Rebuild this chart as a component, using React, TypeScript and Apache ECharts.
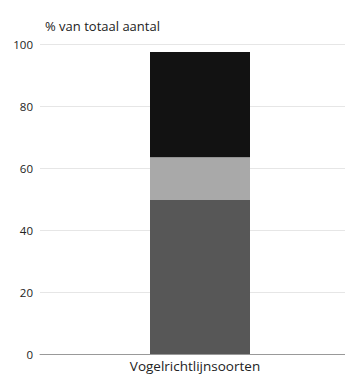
import React, { useEffect, useRef } from "react";
import * as echarts from "echarts";

const categories = ["Vogelrichtlijnsoorten"];
const seriesNames = ["Groep A", "Groep B", "Groep C"];
const valuesA = [49.7];
const valuesB = [13.8];
const valuesC = [33.9];
const colors = ["#575757", "#a9a9a9", "#121212"];
const yTicks = [0, 20, 40, 60, 80, 100];

export default function App() {
  const ref = useRef<HTMLDivElement>(null);
  useEffect(() => {
    if (!ref.current) return;
    const chart = echarts.init(ref.current, null, { renderer: "svg" });
    const data = [valuesA, valuesB, valuesC];
    const yMin = yTicks[0];
    const yMax = yTicks[yTicks.length - 1];
    chart.setOption({
      animation: false,
      textStyle: { fontFamily: "Open Sans" },
      title: {
        text: "% van totaal aantal",
        left: 40,
        top: 14,
        textStyle: { fontSize: 13, fontWeight: "normal", color: "#222", fontFamily: "Open Sans" },
      },
      grid: [
        { left: 40, right: 0, top: 44, bottom: 20 },
        { left: 55, right: 0, top: 44, bottom: 20 },
      ],
      xAxis: [
        {
          gridIndex: 0,
          type: "category",
          data: [""],
          axisLine: { show: true, lineStyle: { color: "#999", width: 1 } },
          axisTick: { show: false },
          axisLabel: { show: false },
        },
        {
          gridIndex: 1,
          type: "category",
          data: categories,
          axisLine: { show: false },
          axisTick: { show: false },
          axisLabel: { color: "#222", fontSize: 13.5, margin: 5, padding: [0, 10, 0, 0] },
        },
      ],
      yAxis: [
        {
          gridIndex: 0,
          type: "value",
          min: yMin,
          max: yMax,
          interval: 20,
          axisLine: { show: false },
          axisTick: { show: false },
          axisLabel: { color: "#222", fontSize: 11.5, margin: 7 },
          splitLine: { lineStyle: { color: "#e6e6e6", width: 1 } },
        },
        {
          gridIndex: 1,
          type: "value",
          min: yMin,
          max: yMax,
          interval: 20,
          axisLine: { show: false },
          axisTick: { show: false },
          axisLabel: { show: false },
          splitLine: { show: false },
        },
      ],
      series: data.map((d, i) => ({
        name: seriesNames[i],
        type: "bar",
        stack: "total",
        xAxisIndex: 1,
        yAxisIndex: 1,
        data: d,
        barWidth: 100,
        itemStyle: { color: colors[i] },
      })),
    });
    return () => chart.dispose();
  }, []);
  return <div ref={ref} style={{ width: 345, height: 374, position: "absolute", left: 0, top: 0 }} />;
}
